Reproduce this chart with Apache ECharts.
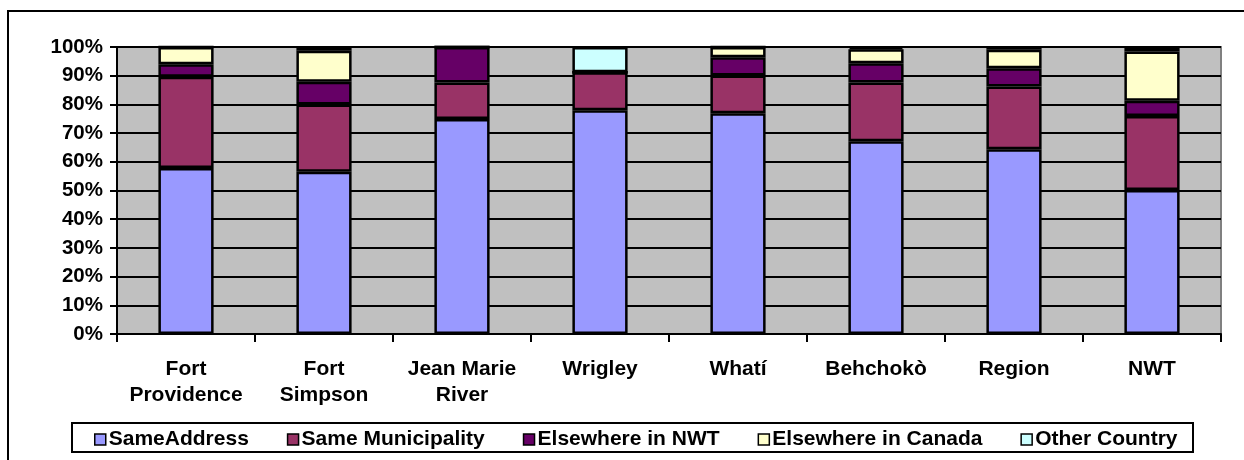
<!DOCTYPE html>
<html>
<head>
<meta charset="utf-8">
<script src="https://cdn.jsdelivr.net/npm/echarts@6/dist/echarts.min.js"></script>
<style>
html,body{margin:0;padding:0;background:#fff;}
#c{width:1244px;height:460px;}
</style>
</head>
<body>
<div id="c"></div>
<script>
const categories = ['Fort\nProvidence', 'Fort\nSimpson', 'Jean Marie\nRiver', 'Wrigley', 'Whatí', 'Behchokò', 'Region', 'NWT'];
const sameAddress       = [57.8, 56.5, 74.9, 78.0, 76.9, 67.2, 64.4, 50.2];
const sameMunicipality  = [31.8, 23.5, 12.7, 13.2, 13.2, 20.4, 21.8, 25.8];
const elsewhereNWT      = [4.4, 7.9, 12.4, 0, 6.3, 6.7, 6.4, 5.3];
const elsewhereCanada   = [6.0, 10.8, 0, 0, 3.6, 4.9, 6.4, 17.1];
const otherCountry      = [0, 1.3, 0, 8.8, 0, 0.8, 1.0, 1.6];
const seriesNames = ['SameAddress', 'Same Municipality', 'Elsewhere in NWT', 'Elsewhere in Canada', 'Other Country'];
const seriesColors = ['#9999FF', '#993366', '#660066', '#FFFFCC', '#CCFFFF'];

const FONT = '"Liberation Sans", Arial, sans-serif';
const chart = echarts.init(document.getElementById('c'), null, {renderer: 'canvas'});
const dataSets = [sameAddress, sameMunicipality, elsewhereNWT, elsewhereCanada, otherCountry];

chart.setOption({
  animation: false,
  graphic: [
    {type: 'rect', shape: {x: 8, y: 11, width: 1260, height: 480}, style: {fill: 'none', stroke: '#000', lineWidth: 2}, z: 0},
    {type: 'rect', shape: {x: 72, y: 423, width: 1121, height: 29}, style: {fill: '#fff', stroke: '#000', lineWidth: 2}, z: 0}
  ],
  grid: {
    left: 117, right: 23, top: 47, bottom: 126,
    show: true, backgroundColor: '#C0C0C0', borderColor: '#808080', borderWidth: 2
  },
  legend: {
    left: 89, top: 424,
    itemWidth: 11, itemHeight: 11, itemGap: 38,
    icon: 'rect',
    textStyle: {fontFamily: FONT, fontWeight: 'bold', fontSize: 21, color: '#000', padding: [0, 0, 0, -2]},
    itemStyle: {borderColor: '#000', borderWidth: 1.5},
    data: seriesNames
  },
  xAxis: {
    type: 'category',
    data: categories,
    axisLine: {lineStyle: {color: '#000', width: 2}},
    axisTick: {show: true, length: 8, lineStyle: {color: '#000', width: 2}, alignWithLabel: false},
    axisLabel: {fontFamily: FONT, fontWeight: 'bold', fontSize: 21, color: '#000', margin: 22, lineHeight: 26, interval: 0}
  },
  yAxis: {
    type: 'value', min: 0, max: 100, interval: 10,
    axisLine: {show: true, lineStyle: {color: '#000', width: 2}},
    axisTick: {show: true, length: 7, lineStyle: {color: '#000', width: 2}},
    axisLabel: {formatter: '{value}%', fontFamily: FONT, fontWeight: 'bold', fontSize: 20.5, color: '#000', margin: 14},
    splitLine: {show: true, lineStyle: {color: '#000', width: 2}}
  },
  series: seriesNames.map((name, i) => ({
    name: name,
    type: 'bar',
    stack: 'total',
    barWidth: '40%',
    data: dataSets[i],
    itemStyle: {color: seriesColors[i], borderColor: '#000', borderWidth: 2.5}
  }))
});
</script>
</body>
</html>
